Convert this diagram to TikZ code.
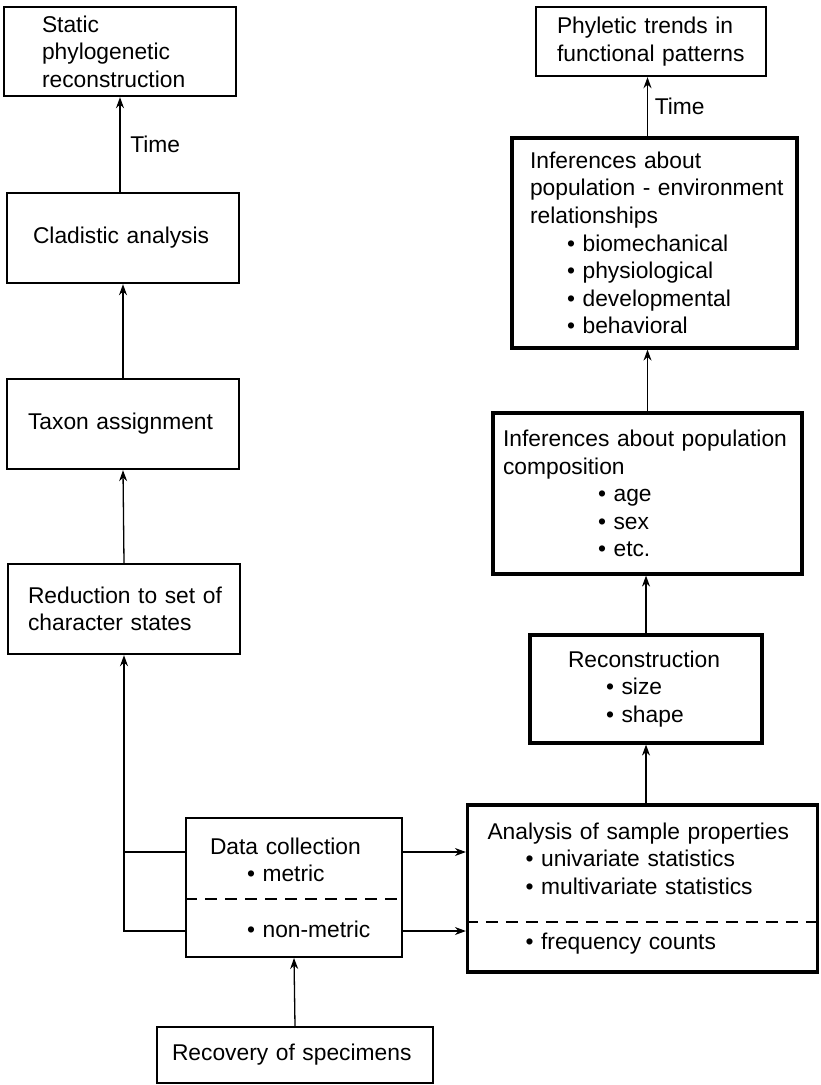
\documentclass[tikz,border=0pt]{standalone}
\usepackage{fontspec}
\setmainfont{Liberation Sans}
\usepackage{tikz}
\usetikzlibrary{arrows.meta,calc}

\begin{document}
\begin{tikzpicture}[x=0.5pt,y=-0.5pt,
  box/.style={draw,line width=1.2pt,rectangle,inner ysep=0pt,align=left,
              font=\fontsize{11.4}{13.8}\selectfont},
  bigbox/.style={box,line width=1.6pt},
  thinbox/.style={box,line width=1pt},
  arr/.style={-{Stealth[length=5.5pt,width=4pt]},line width=0.65pt},
  conn/.style={line width=0.65pt},
  divline/.style={dashed,dash pattern=on 6pt off 4pt,line width=0.9pt},
  lbl/.style={font=\fontsize{11.4}{13.8}\selectfont},
]
\useasboundingbox (0,0) rectangle (820,1085);

% left column
\node[box,text width=78pt,inner xsep=19pt,minimum height=44.5pt] (static) at (120,51.5)
  {Static\\phylogenetic\\reconstruction};
\node[box,text width=90pt,inner xsep=13pt,minimum height=45pt] (clad) at (123,238)
  {Cladistic analysis};
\node[box,text width=95pt,inner xsep=10.5pt,minimum height=45pt] (taxon) at (123,424)
  {Taxon assignment};
\node[box,text width=96pt,inner xsep=10pt,minimum height=45pt] (reduc) at (124,609)
  {\mbox{Reduction to set of}\\character states};

% bottom
\node[thinbox,text width=84pt,inner xsep=12pt,minimum height=69.5pt] (data) at (294,887.5)
  {Data collection\\\hspace*{18.5pt}• metric\\[13.8pt]\hspace*{18.5pt}• non-metric};
\node[thinbox,text width=123pt,inner xsep=7.5pt,minimum height=28pt] (recov) at (295,1055)
  {Recovery of specimens};

% right column
\node[bigbox,text width=155pt,inner xsep=10pt,minimum height=83.5pt] (anal) at (642.5,888.5)
  {Analysis of sample properties\\\hspace*{19pt}• univariate statistics\\\hspace*{19pt}• multivariate statistics\\[13.8pt]\hspace*{19pt}• frequency counts};
\node[bigbox,text width=78pt,inner xsep=19pt,minimum height=54pt] (recon) at (646,689)
  {Reconstruction\\\hspace*{19pt}• size\\\hspace*{19pt}• shape};
\node[bigbox,text width=144.5pt,inner xsep=5pt,minimum height=80.5pt] (comp) at (647.5,493.5)
  {\mbox{Inferences about population}\\composition\\\hspace*{47.5pt}• age\\\hspace*{47.5pt}• sex\\\hspace*{47.5pt}• etc.};
\node[bigbox,text width=124.5pt,inner xsep=9pt,minimum height=105pt] (env) at (654.5,243)
  {Inferences about\\\mbox{population - environment}\\relationships\\\hspace*{18.5pt}• biomechanical\\\hspace*{18.5pt}• physiological\\\hspace*{18.5pt}• developmental\\\hspace*{18.5pt}• behavioral};
\node[box,text width=94pt,inner xsep=10.5pt,minimum height=34.5pt] (phyl) at (651,41.5)
  {\mbox{Phyletic trends in}\\\mbox{functional patterns}};

% dashed dividers
\draw[divline] (data.west |- 0,899) -- (data.east |- 0,899);
\draw[divline] (anal.west |- 0,922) -- (anal.east |- 0,922);

% left arrows
\draw[arr] (static.south |- clad.north) -- (static.south)
  node[lbl,midway,right,xshift=1.5pt]{Time};
\draw[arr] (taxon.north) -- (clad.south);
\draw[arr] (reduc.north) -- (taxon.south);
\draw[conn] (data.west |- 0,852) -- (reduc.south |- 0,852);
\draw[arr] (data.west |- 0,931) -| (reduc.south);
\draw[arr] (recov.north) -- (data.south);

% data to analysis
\draw[arr] (data.east |- 0,852) -- (anal.west |- 0,852);
\draw[arr] (data.east |- 0,931) -- (anal.west |- 0,931);

% right arrows
\draw[arr] (recon.south |- anal.north) -- (recon.south);
\draw[arr] (recon.north) -- (recon.north |- comp.south);
\draw[arr] (comp.north) -- (comp.north |- env.south);
\draw[arr] (comp.north |- env.north) -- (comp.north |- phyl.south)
  node[lbl,midway,right]{Time};
\end{tikzpicture}
\end{document}
